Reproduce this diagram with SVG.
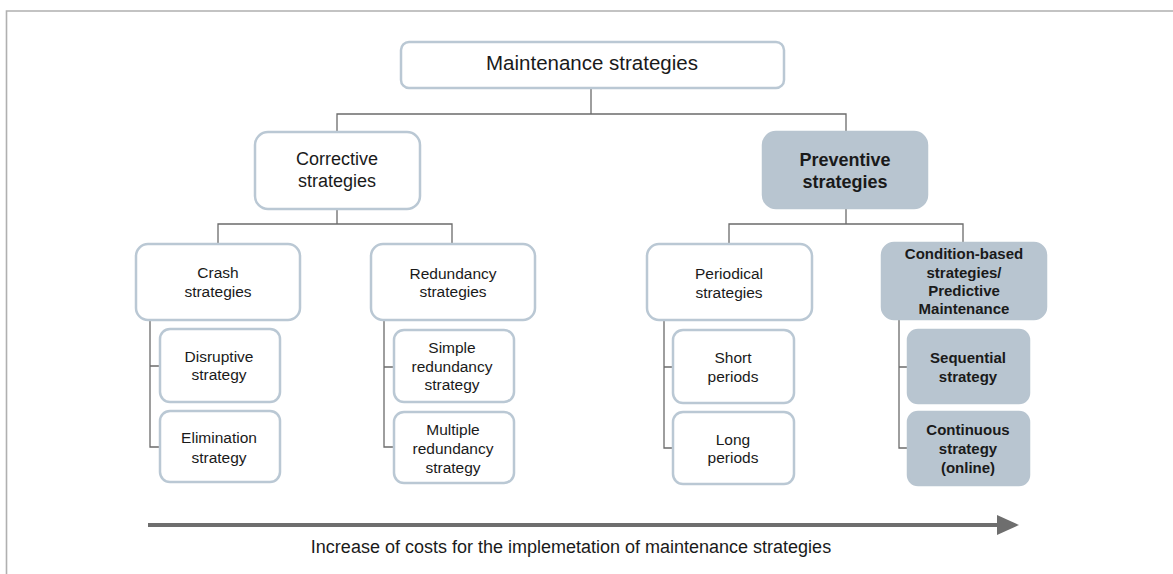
<svg xmlns="http://www.w3.org/2000/svg" width="1173" height="574" viewBox="0 0 1173 574">
<style>
.box{fill:#ffffff;stroke:#bac8d4;stroke-width:2.5}
.dark{fill:#b8c5d0;stroke:#b8c5d0;stroke-width:2.5}
.t{font-family:"Liberation Sans",Arial,Helvetica,sans-serif;fill:#1a1a1a;text-anchor:middle}
.t20{font-size:20.5px}
.t18{font-size:18px}
.t15{font-size:15.5px}
.b{font-weight:bold;font-size:15px}
.b18{font-weight:bold;font-size:18px}
.c{fill:none;stroke:#6b6b6b;stroke-width:1.3}
</style>
<rect x="0" y="0" width="1173" height="574" fill="#ffffff"/>
<path d="M6.5,574 V11 H1173" fill="none" stroke="#b0b0b0" stroke-width="1.6"/>
<g id="connectors">
<path class="c" d="M591,88 V114 M337,132 V114 H846 V132"/>
<path class="c" d="M337,209 V224 M218,244 V224 H452 V244"/>
<path class="c" d="M846,208 V224 M729,244 V224 H963 V243"/>
<path class="c" d="M150,320 V447 H160 M150,366 H160"/>
<path class="c" d="M384,320 V447 H394 M384,367 H394"/>
<path class="c" d="M664,320 V448 H673 M664,367 H673"/>
<path class="c" d="M899,319 V448 H908 M899,367 H908"/>
<path d="M148,525 H999" stroke="#6e6e6e" stroke-width="4" fill="none"/>
<polygon points="997,515 1019,525 997,535" fill="#6e6e6e"/>
</g>
<g id="n-maintenance"><rect class="box" x="401" y="42" width="383" height="46" rx="8"/><text class="t t20" x="592" y="70">Maintenance strategies</text></g>
<g id="n-corrective"><rect class="box" x="255" y="132" width="165" height="77" rx="13"/><text class="t t18" x="337" y="165">Corrective</text><text class="t t18" x="337" y="187">strategies</text></g>
<g id="n-preventive"><rect class="dark" x="763" y="132" width="164" height="76" rx="13"/><text class="t b18" x="845" y="165.5">Preventive</text><text class="t b18" x="845" y="187.5">strategies</text></g>
<g id="n-crash"><rect class="box" x="136" y="244" width="164" height="76" rx="12"/><text class="t t15" x="218" y="277.5">Crash</text><text class="t t15" x="218" y="296.5">strategies</text></g>
<g id="n-redundancy"><rect class="box" x="371" y="244" width="164" height="76" rx="12"/><text class="t t15" x="453" y="278.5">Redundancy</text><text class="t t15" x="453" y="296.5">strategies</text></g>
<g id="n-periodical"><rect class="box" x="647" y="244" width="165" height="76" rx="12"/><text class="t t15" x="729" y="278.5">Periodical</text><text class="t t15" x="729" y="297.5">strategies</text></g>
<g id="n-condition"><rect class="dark" x="882" y="243" width="164" height="76" rx="12"/><text class="t b" x="964" y="259">Condition-based</text><text class="t b" x="964" y="278">strategies/</text><text class="t b" x="964" y="296">Predictive</text><text class="t b" x="964" y="314">Maintenance</text></g>
<g id="n-disruptive"><rect class="box" x="160" y="329" width="120" height="73" rx="10"/><text class="t t15" x="219" y="361.5">Disruptive</text><text class="t t15" x="219" y="379.5">strategy</text></g>
<g id="n-elimination"><rect class="box" x="160" y="411" width="120" height="71" rx="10"/><text class="t t15" x="219" y="442.5">Elimination</text><text class="t t15" x="219" y="462.5">strategy</text></g>
<g id="n-simple"><rect class="box" x="394" y="330" width="120" height="72" rx="10"/><text class="t t15" x="452" y="352.5">Simple</text><text class="t t15" x="452" y="371.5">redundancy</text><text class="t t15" x="452" y="389.5">strategy</text></g>
<g id="n-multiple"><rect class="box" x="394" y="412" width="120" height="71" rx="10"/><text class="t t15" x="453" y="434.5">Multiple</text><text class="t t15" x="453" y="453.5">redundancy</text><text class="t t15" x="453" y="472.5">strategy</text></g>
<g id="n-short"><rect class="box" x="673" y="330" width="121" height="73" rx="10"/><text class="t t15" x="733" y="362.5">Short</text><text class="t t15" x="733" y="381.5">periods</text></g>
<g id="n-long"><rect class="box" x="673" y="412" width="121" height="72" rx="10"/><text class="t t15" x="733" y="444.5">Long</text><text class="t t15" x="733" y="462.5">periods</text></g>
<g id="n-sequential"><rect class="dark" x="908" y="330" width="121" height="73" rx="10"/><text class="t b" x="968" y="362.5">Sequential</text><text class="t b" x="968" y="381.5">strategy</text></g>
<g id="n-continuous"><rect class="dark" x="908" y="412" width="121" height="73" rx="10"/><text class="t b" x="968" y="434.5">Continuous</text><text class="t b" x="968" y="453.5">strategy</text><text class="t b" x="968" y="472.5">(online)</text></g>
<text class="t t18" x="571" y="553">Increase of costs for the implemetation of maintenance strategies</text>
</svg>
